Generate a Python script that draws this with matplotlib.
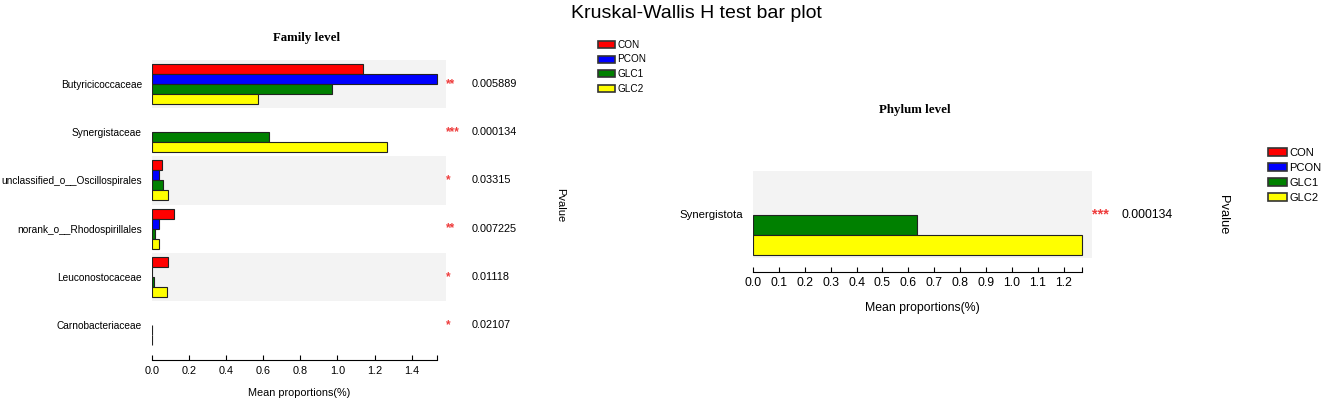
import matplotlib.pyplot as plt
import numpy as np
from matplotlib.patches import Patch

plt.rcParams['font.family'] = ['Liberation Sans', 'DejaVu Sans']

groups = ['CON', 'PCON', 'GLC1', 'GLC2']
colors = ['#FF0000', '#0000FF', '#008000', '#FFFF00']

# family level
family_names = ['Butyricicoccaceae', 'Synergistaceae', 'unclassified_o__Oscillospirales',
                'norank_o__Rhodospirillales', 'Leuconostocaceae', 'Carnobacteriaceae']
family_con = [1.136, 0.0, 0.057, 0.120, 0.086, 0.0]
family_pcon = [1.535, 0.0, 0.039, 0.039, 0.003, 0.0]
family_glc1 = [0.971, 0.633, 0.059, 0.018, 0.012, 0.003]
family_glc2 = [0.571, 1.267, 0.086, 0.037, 0.081, 0.002]
family_p = ['0.005889', '0.000134', '0.03315', '0.007225', '0.01118', '0.02107']
family_sig = ['**', '***', '*', '**', '*', '*']

# phylum level
phylum_names = ['Synergistota']
phylum_con = [0.0]
phylum_pcon = [0.0]
phylum_glc1 = [0.634]
phylum_glc2 = [1.270]
phylum_p = ['0.000134']
phylum_sig = ['***']

W, H = 1325, 399
fig = plt.figure(figsize=(W / 100, H / 100), dpi=100)


def draw_panel(ax, names, series, pvals, sigs, xmax, ticks, slot, fs, offset, star_fs):
    n = len(names)
    y = np.arange(n)
    for i in range(0, n, 2):
        ax.axhspan(i - 0.5, i + 0.5, color='#F3F3F3', zorder=0, lw=0)
    for k, vals in enumerate(series):
        lw = [0.8 if v > 0 else 0 for v in vals]
        ax.barh(y + (k - 1.5) * slot, vals, height=slot, color=colors[k],
                edgecolor='#222222', linewidth=lw, zorder=2)
    ax.set_ylim(n - 0.5, -0.5)
    vmax = max(max(s) for s in series)
    ax.set_xlim(0, xmax)
    for s in ['top', 'right', 'left']:
        ax.spines[s].set_visible(False)
    ax.spines['bottom'].set_position(('outward', offset))
    ax.spines['bottom'].set_bounds(0, vmax)
    ax.spines['bottom'].set_linewidth(0.8)
    ax.set_xticks(list(ticks) + [vmax])
    ax.set_xticklabels(['%.1f' % t for t in ticks] + [''])
    ax.tick_params(axis='x', direction='in', length=3.5, width=0.8, pad=4, labelsize=fs)
    ax.set_yticks(y)
    ax.set_yticklabels(names)
    ax.tick_params(axis='y', length=0, pad=7, labelsize=fs * 0.93)
    ax.set_xlabel('Mean proportions(%)', fontsize=fs, labelpad=9)
    for i in range(n):
        ax.text(1.0, i, sigs[i], transform=ax.get_yaxis_transform(),
                color='#EE3B3B', fontsize=star_fs, weight='bold', ha='left', va='center')
        ax.text(1.088, i, pvals[i], transform=ax.get_yaxis_transform(),
                fontsize=fs, ha='left', va='center')


ax1 = fig.add_axes([151.7 / W, 1 - 349 / H, 294 / W, 289 / H])
draw_panel(ax1, family_names, [family_con, family_pcon, family_glc1, family_glc2],
           family_p, family_sig, 1.583, np.arange(0, 1.41, 0.2), 0.208, 7.8, 8, 8.5)

ax2 = fig.add_axes([753 / W, 1 - 258 / H, 339 / W, 87 / H])
draw_panel(ax2, phylum_names, [phylum_con, phylum_pcon, phylum_glc1, phylum_glc2],
           phylum_p, phylum_sig, 1.309, np.arange(0, 1.21, 0.1), 0.23, 8.8, 10, 10.5)

fig.text(696 / W, 1 - 13 / H, 'Kruskal-Wallis H test bar plot', ha='center', va='center', fontsize=14)
fig.text(307 / W, 1 - 38 / H, 'Family level', ha='center', va='center', fontsize=9.3,
         family='Liberation Serif', weight='bold')
fig.text(915 / W, 1 - 110 / H, 'Phylum level', ha='center', va='center', fontsize=9.3,
         family='Liberation Serif', weight='bold')
fig.text(560 / W, 1 - 205 / H, 'Pvalue', rotation=-90, ha='center', va='center', fontsize=8)
fig.text(1223 / W, 1 - 215 / H, 'Pvalue', rotation=-90, ha='center', va='center', fontsize=9.3)

handles = [Patch(facecolor=c, edgecolor='#333333', linewidth=1.2) for c in colors]
fig.legend(handles, groups, loc='upper left', bbox_to_anchor=(598 / W, 1 - 40 / H),
           frameon=False, fontsize=7.2, handlelength=1.7, handleheight=0.7,
           handletextpad=0.2, labelspacing=0.45, borderpad=0, borderaxespad=0)
fig.legend(handles, groups, loc='upper left', bbox_to_anchor=(1268 / W, 1 - 148 / H),
           frameon=False, fontsize=8, handlelength=1.7, handleheight=0.7,
           handletextpad=0.2, labelspacing=0.45, borderpad=0, borderaxespad=0)

fig.savefig('out.png', dpi=100)
